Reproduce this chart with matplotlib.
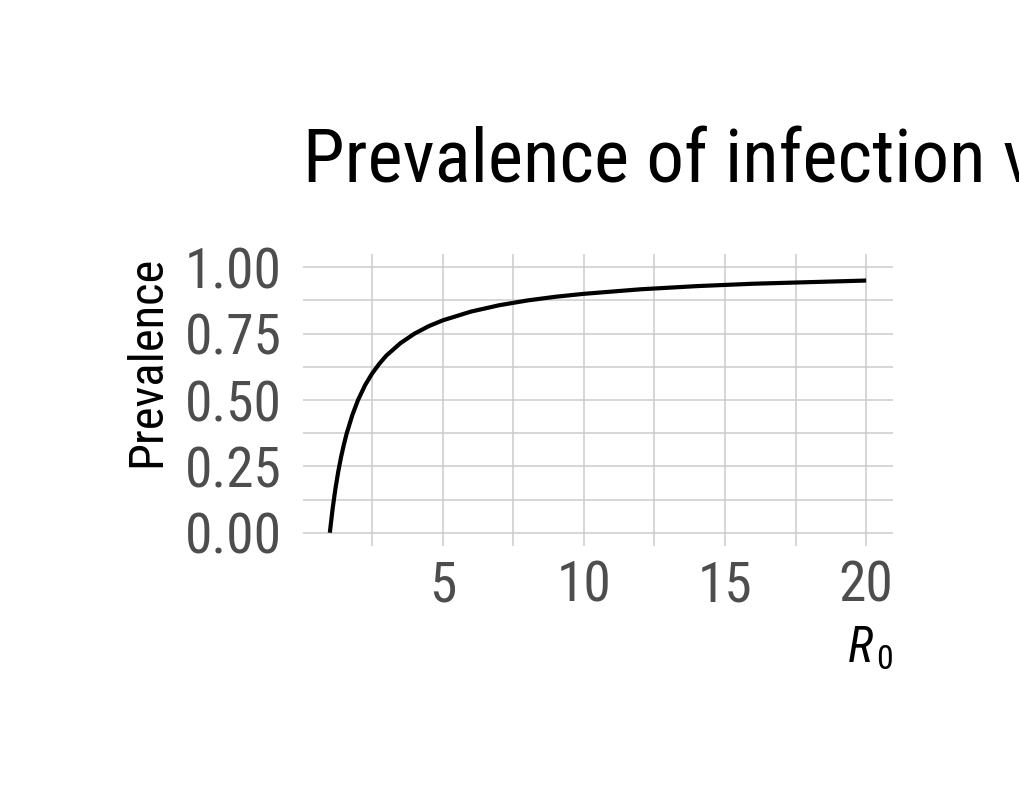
import matplotlib
matplotlib.use("Agg")
import matplotlib.pyplot as plt
from matplotlib import font_manager as fm

# ---- data ----
r0 = [1.0, 1.1, 1.2, 1.3, 1.4, 1.5, 1.6, 1.8, 2.0, 2.25, 2.5, 2.75, 3.0, 3.5,
      4.0, 4.5, 5.0, 6.0, 7.0, 8.0, 9.0, 10.0, 12.0, 14.0, 16.0, 18.0, 20.0]
prevalence = [0.0, 0.091, 0.167, 0.231, 0.286, 0.333, 0.375, 0.444, 0.500,
              0.556, 0.600, 0.636, 0.667, 0.714, 0.750, 0.778, 0.800, 0.833,
              0.857, 0.875, 0.889, 0.900, 0.917, 0.929, 0.938, 0.944, 0.950]
x_ticks = [5, 10, 15, 20]
x_minor = [2.5, 7.5, 12.5, 17.5]
y_ticks = [0.0, 0.25, 0.5, 0.75, 1.0]
y_tick_labels = ["0.00", "0.25", "0.50", "0.75", "1.00"]
y_minor = [0.125, 0.375, 0.625, 0.875]
title = "Prevalence of infection vs. basic reproduction number"
x_label = r"$R_{\,0}$"
y_label = "Prevalence"

# ---- font choice ----
def pick(cands):
    for c in cands:
        try:
            fm.findfont(fm.FontProperties(family=c), fallback_to_default=False)
            return c
        except Exception:
            pass
    return "DejaVu Sans"

FONT = pick(["Roboto Condensed", "Liberation Sans Narrow", "Roboto"])
plt.rcParams["font.family"] = [FONT, "DejaVu Sans"]
plt.rcParams["mathtext.fontset"] = "custom"
plt.rcParams["mathtext.rm"] = FONT
plt.rcParams["mathtext.it"] = FONT + ":italic"

W, H = 1020, 810
fig = plt.figure(figsize=(W / 100, H / 100), dpi=100)
fig.patch.set_facecolor("white")

L, R, T, B = 303, 893, 254, 546
ax = fig.add_axes([L / W, 1 - B / H, (R - L) / W, (B - T) / H])
ax.set_facecolor("white")

ax.plot(r0, prevalence, color="black", lw=3.0, solid_capstyle="butt",
        solid_joinstyle="round", zorder=3)

ax.set_xlim(0.05, 20.95)
ax.set_ylim(-0.05, 1.05)
ax.set_xticks(x_ticks)
ax.set_xticks(x_minor, minor=True)
ax.set_yticks(y_ticks)
ax.set_yticklabels(y_tick_labels)
ax.set_yticks(y_minor, minor=True)

grid_kw = dict(color="#cccccc", lw=1.1)
ax.grid(True, which="both", **grid_kw)
ax.set_axisbelow(True)
for s in ax.spines.values():
    s.set_visible(False)

ax.tick_params(which="both", length=0)
ax.tick_params(axis="y", which="major", labelsize=40, labelcolor="#4d4d4d", pad=15)
ax.tick_params(axis="x", which="major", labelsize=40, labelcolor="#4d4d4d", pad=10)

fig.text(L / W, 1 - 182 / H, title, fontsize=54, color="black",
         ha="left", va="baseline")
fig.text(R / W, 1 - 662 / H, x_label, fontsize=35, color="black",
         ha="right", va="baseline")
fig.text(160 / W, 1 - 256 / H, y_label, fontsize=35, color="black",
         rotation=90, rotation_mode="anchor", ha="right", va="baseline")

fig.savefig("out.png", dpi=100, facecolor="white")
